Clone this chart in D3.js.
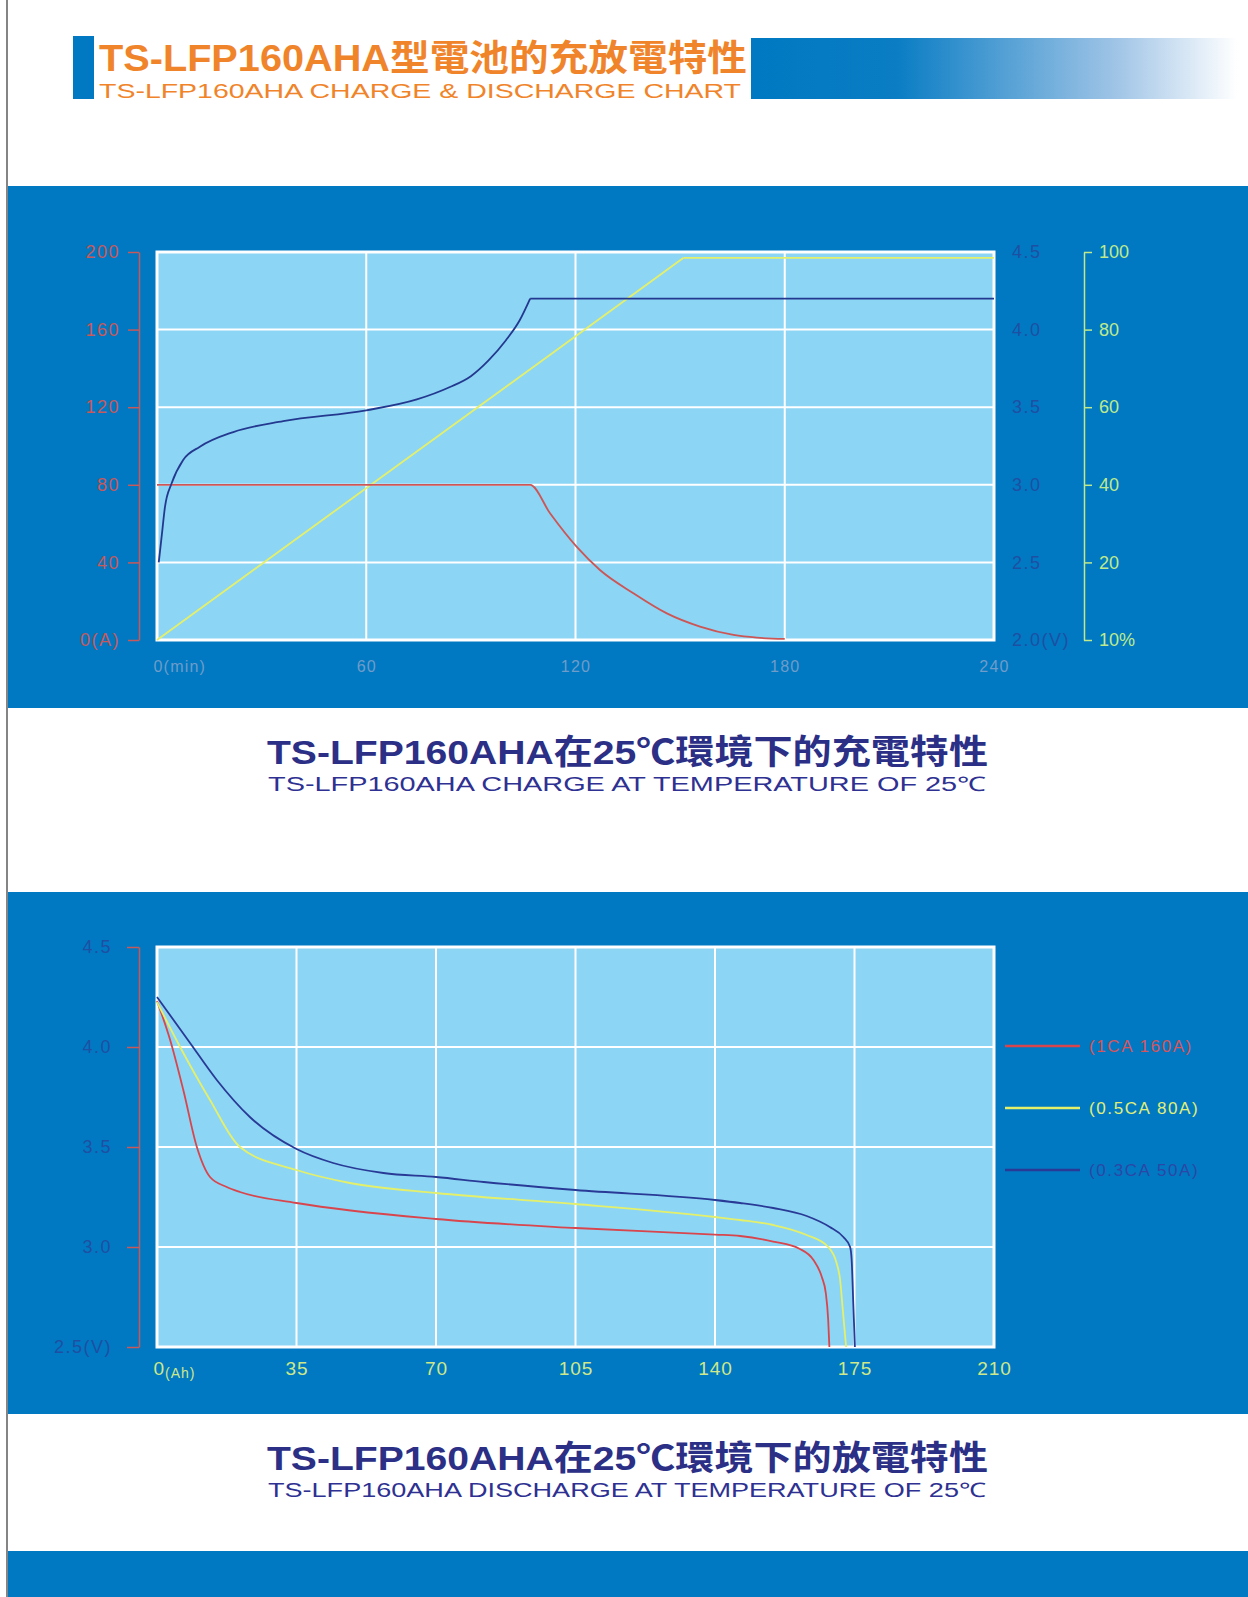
<!DOCTYPE html>
<html>
<head>
<meta charset="utf-8">
<script src="https://cdn.jsdelivr.net/npm/d3@7/dist/d3.min.js"></script>
<style>
  html, body { margin: 0; padding: 0; background: #ffffff; }
  svg { display: block; }
  text { font-family: "Liberation Sans", Arial, "Noto Sans CJK TC", sans-serif; }
  .narrow { font-family: "Liberation Sans Narrow", "Liberation Sans", Arial, sans-serif; }
</style>
</head>
<body>
<div id="chart"></div>
<script>
// ---------------- DATA ----------------
// Charge chart (x: minutes)
const chargeTimeTicks = [0, 60, 120, 180, 240];
const currentTicks = [0, 40, 80, 120, 160, 200];
const voltageTicksCharge = [2.0, 2.5, 3.0, 3.5, 4.0, 4.5];
const capacityTicks = [0, 20, 40, 60, 80, 100];
const capacityTickLabels = ["10%", "20", "40", "60", "80", "100"];

// Charge current (A) vs time (min)
const chargeCurrent = [[0,80],[107,80],[112.7,65.3],[120.3,48.1],[127,36.1],[136.6,24.1],[146.2,13.7],[155.7,6.9],[165.3,2.6],[172,1.2],[180,0.6]];
// Charge voltage (V) vs time (min)
const chargeVoltage = [[0.5,2.5],[1.4,2.68],[2.3,2.86],[4.2,3.01],[7.5,3.16],[12.3,3.245],[21.9,3.34],[36.2,3.41],[60,3.48],[74.5,3.55],[84,3.63],[90,3.70],[95,3.80],[100,3.93],[104,4.06],[107,4.2],[240,4.2]];
// Charged capacity (%) vs time (min)
const chargeCapacity = [[0,0],[151,98.5],[240,98.5]];

// Discharge chart (x: Ah)
const capacityAhTicks = [0, 35, 70, 105, 140, 175, 210];
const voltageTicksDischarge = [2.5, 3.0, 3.5, 4.0, 4.5];
const dischargeNames = ["(1CA  160A)", "(0.5CA 80A)", "(0.3CA 50A)"];
const discharge1C = [[0,4.23],[3.3,4.035],[6.6,3.785],[10,3.5],[13.3,3.35],[17.5,3.30],[20.8,3.275],[35,3.22],[70,3.14],[105,3.095],[140,3.062],[146.3,3.055],[154.6,3.027],[161.3,2.99],[164.7,2.935],[166.8,2.85],[167.8,2.77],[168.4,2.635],[168.7,2.5]];
const discharge05C = [[0,4.225],[5.8,4.0],[13.3,3.735],[20.8,3.5],[35,3.385],[48.4,3.32],[70,3.27],[105,3.215],[140,3.15],[146.3,3.135],[154.6,3.11],[163,3.06],[168.4,3.0],[170.5,2.92],[171.4,2.835],[172,2.7],[172.9,2.5]];
const discharge03C = [[0,4.25],[8.3,4.02],[15,3.835],[23.3,3.65],[35,3.49],[44.2,3.42],[56.8,3.37],[70,3.35],[82,3.325],[105,3.285],[140,3.235],[146.3,3.22],[154.6,3.195],[163,3.155],[168.8,3.10],[172.2,3.05],[173.9,3.0],[174.3,2.93],[174.7,2.715],[175.1,2.5]];

// ---------------- STYLE ----------------
const W = 1248, H = 1597;
const BAND = "#0079c2";
const PLOT_BG = "#8dd5f4";
const ORANGE = "#f0842a";
const NAVY_TITLE = "#2b2f86";
const RED_AXIS = "#c8585a";
const BLUE_LABEL = "#1f4fa3";
const GREEN_AXIS = "#bfe98c";
const XLAB_TOP = "#6f9cc9";
const XLAB_BOT = "#cfe889";
const C_RED = "#d9454c", C_YEL = "#e4f06a", C_BLU = "#283a96";

const svg = d3.select("#chart").append("svg").attr("width", W).attr("height", H);
const defs = svg.append("defs");
const grad = defs.append("linearGradient").attr("id", "hdrGrad").attr("x1", "0%").attr("x2", "100%");
grad.append("stop").attr("offset", "0%").attr("stop-color", "#0079c2");
grad.append("stop").attr("offset", "30%").attr("stop-color", "#0a7dc4");
grad.append("stop").attr("offset", "75%").attr("stop-color", "#9fc4e6");
grad.append("stop").attr("offset", "100%").attr("stop-color", "#ffffff");

// left page edge line
svg.append("line").attr("x1", 7).attr("x2", 7).attr("y1", 0).attr("y2", H).attr("stroke", "#333").attr("stroke-width", 1.2);

// ---------------- HEADER ----------------
svg.append("rect").attr("x", 73).attr("y", 36).attr("width", 21).attr("height", 63).attr("fill", BAND);
svg.append("rect").attr("x", 751).attr("y", 38).attr("width", 486).attr("height", 61).attr("fill", "url(#hdrGrad)");
svg.append("text").attr("x", 99).attr("y", 71).attr("fill", ORANGE)
  .attr("font-size", 36).attr("font-weight", "bold")
  .attr("textLength", 648).attr("lengthAdjust", "spacingAndGlyphs")
  .text("TS-LFP160AHA型電池的充放電特性");
svg.append("text").attr("class", "narrow").attr("x", 99).attr("y", 98).attr("fill", ORANGE)
  .attr("font-size", 20)
  .attr("textLength", 642).attr("lengthAdjust", "spacingAndGlyphs")
  .text("TS-LFP160AHA CHARGE & DISCHARGE CHART");

// ---------------- BANDS ----------------
svg.append("rect").attr("x", 8).attr("y", 186).attr("width", W - 8).attr("height", 522).attr("fill", BAND);
svg.append("rect").attr("x", 8).attr("y", 892).attr("width", W - 8).attr("height", 522).attr("fill", BAND);
svg.append("rect").attr("x", 8).attr("y", 1551).attr("width", W - 8).attr("height", H - 1551).attr("fill", BAND);

// ---------------- helpers ----------------
function drawSeries(g, data, x, y, color, width) {
  // split into curved part and trailing flat part
  let k = data.length - 1;
  while (k > 0 && data[k - 1][1] === data[k][1]) k--;
  const curved = data.slice(0, k + 1);
  const flat = data.slice(k);
  const lc = d3.line().x(d => x(d[0])).y(d => y(d[1])).curve(d3.curveMonotoneX);
  const ll = d3.line().x(d => x(d[0])).y(d => y(d[1]));
  g.append("path").attr("d", lc(curved)).attr("fill", "none").attr("stroke", color).attr("stroke-width", width).attr("stroke-linejoin", "round");
  if (flat.length > 1) g.append("path").attr("d", ll(flat)).attr("fill", "none").attr("stroke", color).attr("stroke-width", width);
}
function plotFrame(g, x0, y0, w, h, xs, ys, xt, yt) {
  g.append("rect").attr("x", x0).attr("y", y0).attr("width", w).attr("height", h).attr("fill", PLOT_BG);
  g.selectAll(".vg").data(xt.slice(1, -1)).join("line")
    .attr("x1", d => xs(d)).attr("x2", d => xs(d)).attr("y1", y0).attr("y2", y0 + h)
    .attr("stroke", "#ffffff").attr("stroke-width", 2);
  g.selectAll(".hg").data(yt.slice(1, -1)).join("line")
    .attr("x1", x0).attr("x2", x0 + w).attr("y1", d => ys(d)).attr("y2", d => ys(d))
    .attr("stroke", "#ffffff").attr("stroke-width", 2);
  g.append("rect").attr("x", x0).attr("y", y0).attr("width", w).attr("height", h)
    .attr("fill", "none").attr("stroke", "#ffffff").attr("stroke-width", 3);
}

// ---------------- CHART 1: CHARGE ----------------
const p1 = { x0: 157, x1: 994, y0: 252, y1: 640 };
const xT = d3.scaleLinear().domain([0, 240]).range([p1.x0, p1.x1]);
const yA = d3.scaleLinear().domain([0, 200]).range([p1.y1, p1.y0]);
const yV = d3.scaleLinear().domain([2.0, 4.5]).range([p1.y1, p1.y0]);
const yP = d3.scaleLinear().domain([0, 100]).range([p1.y1, p1.y0]);

const g1 = svg.append("g");
plotFrame(g1, p1.x0, p1.y0, p1.x1 - p1.x0, p1.y1 - p1.y0, xT, yA, chargeTimeTicks, currentTicks);

// left current axis
const axA = g1.append("g").attr("transform", `translate(139,0)`)
  .call(d3.axisLeft(yA).tickValues(currentTicks).tickSize(11).tickSizeOuter(0).tickPadding(8)
    .tickFormat(d => d === 0 ? "0(A)" : d));
axA.select(".domain").attr("stroke", RED_AXIS).attr("stroke-width", 1.5);
axA.selectAll(".tick line").attr("stroke", RED_AXIS).attr("stroke-width", 1.5);
axA.selectAll(".tick text").attr("class", "narrow").attr("fill", RED_AXIS).attr("font-size", 18).attr("letter-spacing", 1.5);

// right voltage labels
const axV = g1.append("g").attr("transform", `translate(1012,0)`)
  .call(d3.axisRight(yV).tickValues(voltageTicksCharge).tickSize(0).tickPadding(0)
    .tickFormat(d => d === 2.0 ? "2.0(V)" : d3.format(".1f")(d)));
axV.select(".domain").remove();
axV.selectAll(".tick text").attr("class", "narrow").attr("fill", BLUE_LABEL).attr("font-size", 18).attr("letter-spacing", 1.5);

// right percentage axis
const axP = g1.append("g").attr("transform", `translate(1084,0)`)
  .call(d3.axisRight(yP).tickValues(capacityTicks).tickSize(8).tickSizeOuter(0).tickPadding(7)
    .tickFormat((d, i) => capacityTickLabels[i]));
axP.select(".domain").attr("stroke", GREEN_AXIS).attr("stroke-width", 1.5);
axP.selectAll(".tick line").attr("stroke", GREEN_AXIS).attr("stroke-width", 1.5);
axP.selectAll(".tick text").attr("fill", GREEN_AXIS).attr("font-size", 18);

// x labels
const axT = g1.append("g").attr("transform", `translate(0,${p1.y1})`)
  .call(d3.axisBottom(xT).tickValues(chargeTimeTicks).tickSize(0).tickPadding(21)
    .tickFormat(d => d === 0 ? "0(min)" : d));
axT.select(".domain").remove();
axT.selectAll(".tick text").attr("class", "narrow").attr("fill", XLAB_TOP).attr("font-size", 16).attr("letter-spacing", 1.2);
axT.selectAll(".tick text").filter(d => d === 0).attr("text-anchor", "start").attr("x", -4);

drawSeries(g1, chargeCapacity, xT, yP, C_YEL, 1.8);
drawSeries(g1, chargeCurrent, xT, yA, "#cc5555", 1.8);
drawSeries(g1, chargeVoltage, xT, yV, "#23388f", 1.8);

// titles
svg.append("text").attr("x", 267).attr("y", 764).attr("fill", NAVY_TITLE)
  .attr("font-size", 34).attr("font-weight", "bold")
  .attr("textLength", 721).attr("lengthAdjust", "spacingAndGlyphs")
  .text("TS-LFP160AHA在25℃環境下的充電特性");
svg.append("text").attr("class", "narrow").attr("x", 268).attr("y", 791).attr("fill", "#2e3192")
  .attr("font-size", 20)
  .attr("textLength", 718).attr("lengthAdjust", "spacingAndGlyphs")
  .text("TS-LFP160AHA CHARGE AT TEMPERATURE OF 25℃");

// ---------------- CHART 2: DISCHARGE ----------------
const p2 = { x0: 157, x1: 994, y0: 947, y1: 1347 };
const xC = d3.scaleLinear().domain([0, 210]).range([p2.x0, p2.x1]);
const yD = d3.scaleLinear().domain([2.5, 4.5]).range([p2.y1, p2.y0]);
const g2 = svg.append("g");
plotFrame(g2, p2.x0, p2.y0, p2.x1 - p2.x0, p2.y1 - p2.y0, xC, yD, capacityAhTicks, voltageTicksDischarge);

const axD = g2.append("g").attr("transform", `translate(139,0)`)
  .call(d3.axisLeft(yD).tickValues(voltageTicksDischarge).tickSize(12).tickSizeOuter(0).tickPadding(15)
    .tickFormat(d => d === 2.5 ? "2.5(V)" : d3.format(".1f")(d)));
axD.select(".domain").attr("stroke", RED_AXIS).attr("stroke-width", 1.5);
axD.selectAll(".tick line").attr("stroke", RED_AXIS).attr("stroke-width", 1.5);
axD.selectAll(".tick text").attr("class", "narrow").attr("fill", BLUE_LABEL).attr("font-size", 18).attr("letter-spacing", 1.5);

const axC = g2.append("g").attr("transform", `translate(0,${p2.y1})`)
  .call(d3.axisBottom(xC).tickValues(capacityAhTicks).tickSize(0).tickPadding(15)
    .tickFormat(d => d));
axC.select(".domain").remove();
axC.selectAll(".tick text").attr("class", "narrow").attr("fill", XLAB_BOT).attr("font-size", 19).attr("letter-spacing", 1);
const t0 = axC.selectAll(".tick text").filter(d => d === 0).attr("text-anchor", "start").attr("x", -4);
t0.append("tspan").attr("font-size", 14).attr("dy", 3).text("(Ah)");

const discharge = [discharge1C, discharge05C, discharge03C];
const dColors = [C_RED, C_YEL, C_BLU];
discharge.forEach((s, i) => drawSeries(g2, s, xC, yD, dColors[i], 1.8));

// legend
const legY = [1046, 1108, 1170];
const lg = svg.append("g");
dischargeNames.forEach((name, i) => {
  lg.append("line").attr("x1", 1005).attr("x2", 1080).attr("y1", legY[i]).attr("y2", legY[i])
    .attr("stroke", dColors[i]).attr("stroke-width", 2.5);
  lg.append("text").attr("class", "narrow").attr("x", 1089).attr("y", legY[i] + 6)
    .attr("fill", i === 0 ? "#d9545a" : (i === 1 ? "#e2ef78" : "#2c47a6"))
    .attr("font-size", 17).attr("letter-spacing", 1.6).text(name);
});

svg.append("text").attr("x", 267).attr("y", 1470).attr("fill", NAVY_TITLE)
  .attr("font-size", 34).attr("font-weight", "bold")
  .attr("textLength", 721).attr("lengthAdjust", "spacingAndGlyphs")
  .text("TS-LFP160AHA在25℃環境下的放電特性");
svg.append("text").attr("class", "narrow").attr("x", 268).attr("y", 1497).attr("fill", "#2e3192")
  .attr("font-size", 20)
  .attr("textLength", 718).attr("lengthAdjust", "spacingAndGlyphs")
  .text("TS-LFP160AHA DISCHARGE AT TEMPERATURE OF 25℃");
</script>
</body>
</html>
